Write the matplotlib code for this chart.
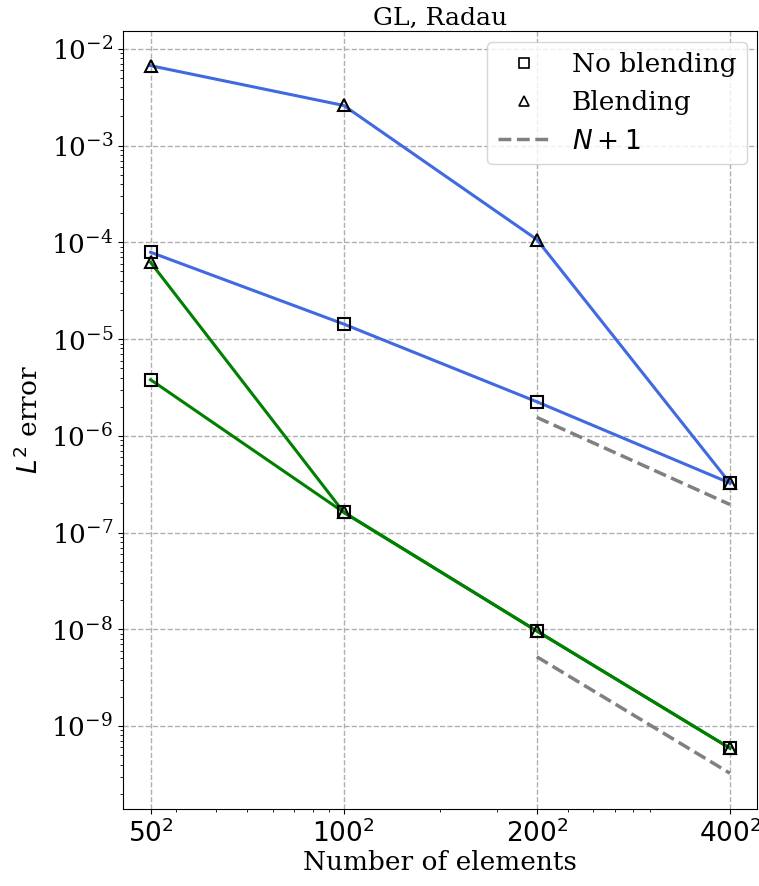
import matplotlib
matplotlib.use("Agg")
import matplotlib.pyplot as plt

plt.rcParams["font.family"] = "serif"
plt.rcParams["font.serif"] = ["DejaVu Serif"]
plt.rcParams["mathtext.fontset"] = "dejavusans"

# number of elements, n x n meshes
n_side = [50, 100, 200, 400]
n_elems = [n * n for n in n_side]
xtick_labels = [f"${n}^{{2}}$" for n in n_side]

# L2 errors, GL nodes with Radau correction
err_p2_noblend = [7.9e-5, 1.43e-5, 2.25e-6, 3.25e-7]
err_p2_blend = [6.7e-3, 2.6e-3, 1.07e-4, 3.25e-7]
err_p3_noblend = [3.8e-6, 1.62e-7, 9.6e-9, 5.9e-10]
err_p3_blend = [6.2e-5, 1.62e-7, 9.6e-9, 5.9e-10]

# expected-order guides over the two finest meshes
guide_x = [200 * 200, 400 * 400]
guide_p2 = [1.55e-6, 1.95e-7]
guide_p3 = [5.2e-9, 3.25e-10]

fig = plt.figure(figsize=(7.59, 8.86), dpi=100)
ax = fig.add_axes([0.162, 0.087, 0.836, 0.878])

series = [
    (err_p2_noblend, "royalblue", "s"),
    (err_p2_blend, "royalblue", "^"),
    (err_p3_noblend, "green", "s"),
    (err_p3_blend, "green", "^"),
]
for err, color, marker in series:
    ax.plot(n_elems, err, color=color, lw=2.2, zorder=2)
for err, color, marker in series:
    ax.plot(n_elems, err, marker, ms=9, mfc="none", mec="k", mew=1.5, zorder=3)

ax.plot(guide_x, guide_p2, "--", color="gray", lw=2.5, zorder=2)
ax.plot(guide_x, guide_p3, "--", color="gray", lw=2.5, zorder=2)

# legend handles: marker shape only, plus the slope guide
ax.plot([], [], "s", ms=7, mfc="none", mec="k", mew=1.2, label="No blending")
ax.plot([], [], "^", ms=7, mfc="none", mec="k", mew=1.2, label="Blending")
ax.plot([], [], "--", color="gray", lw=2.5, label="$N+1$")

ax.set_xscale("log")
ax.set_yscale("log")
ax.set_xlim(2050, 195000)
ax.set_ylim(1.39e-10, 1.53e-2)
ax.set_xticks(n_elems)
ax.set_xticklabels(xtick_labels)
ax.tick_params(axis="both", labelsize=19)
ax.grid(True, which="major", ls="--", color="#b0b0b0", lw=1)

ax.set_xlabel("Number of elements", fontsize=19, labelpad=2)
ax.set_ylabel("$L^2$ error", fontsize=19, labelpad=6)
ax.set_title("GL, Radau", fontsize=18, pad=4)
ax.legend(loc="upper right", fontsize=19, borderaxespad=0.4)

fig.savefig("out.png", dpi=100)
